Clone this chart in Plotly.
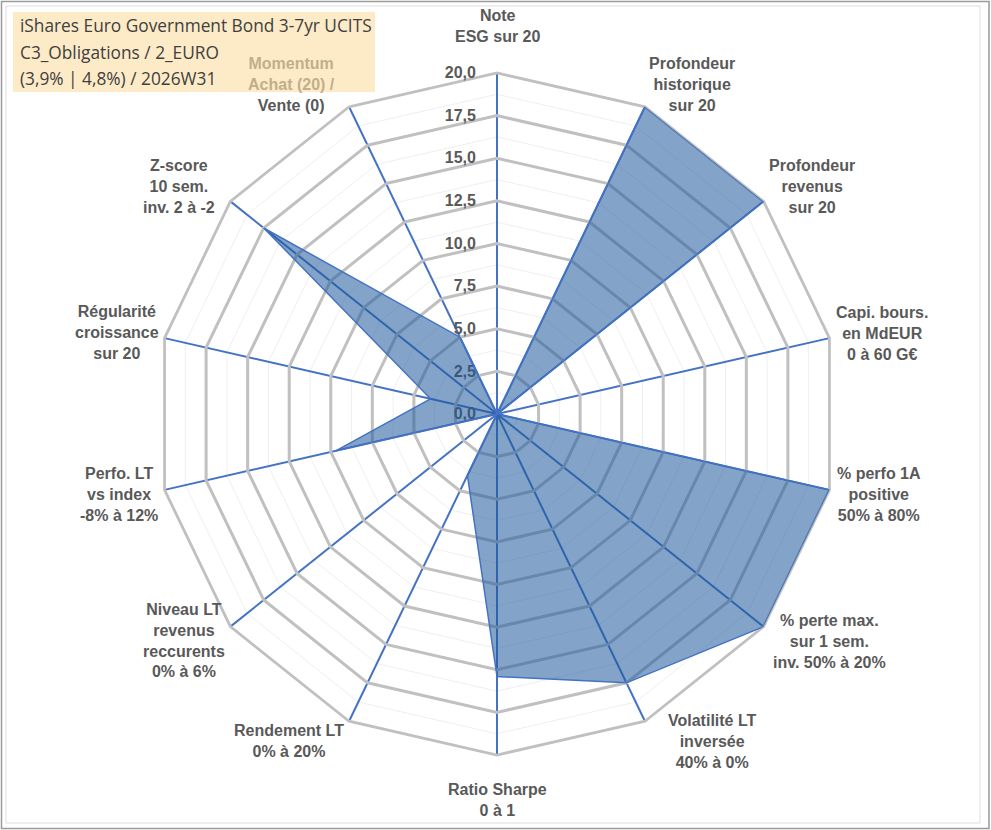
import plotly.graph_objects as go

# ---------------- data ----------------
axis_keys = [
    "Note ESG", "Profondeur historique", "Profondeur revenus", "Capi. bours.",
    "% perfo 1A", "% perte max.", "Volatilité LT", "Ratio Sharpe",
    "Rendement LT", "Niveau LT revenus", "Perfo. LT", "Régularité",
    "Z-score", "Momentum",
]
axis_labels = [
    "Note<br>ESG sur 20",
    "Profondeur<br>historique<br>sur 20",
    "Profondeur<br>revenus<br>sur 20",
    "Capi. bours.<br>en MdEUR<br>0 à 60 G€",
    "% perfo 1A<br>positive<br>50% à 80%",
    "% perte max.<br>sur 1 sem.<br>inv. 50% à 20%",
    "Volatilité LT<br>inversée<br>40% à 0%",
    "Ratio Sharpe<br>0 à 1",
    "Rendement LT<br>0% à 20%",
    "Niveau LT<br>revenus<br>reccurents<br>0% à 6%",
    "Perfo. LT<br>vs index<br>-8% à 12%",
    "Régularité<br>croissance<br>sur 20",
    "Z-score<br>10 sem.<br>inv. 2 à -2",
    "<span style='color:#C2AE8A'>Momentum</span><br><span style='color:#C2AE8A'>Achat (20) /</span><br>Vente (0)",
]
scores = [0, 20, 20, 0, 20, 20, 17.5, 15.4, 4.0, 0, 9.7, 4.0, 17.5, 5.0]
radial_ticks = [0, 2.5, 5, 7.5, 10, 12.5, 15, 17.5, 20]
minor_ticks = [1.25, 3.75, 6.25, 8.75, 11.25, 13.75, 16.25, 18.75]
title_lines = [
    "iShares Euro Government Bond 3-7yr UCITS",
    "C3_Obligations / 2_EURO",
    "(3,9% | 4,8%) / 2026W31",
]

# ---------------- layout helpers ----------------
W, H = 991, 830
CX, CY, R = 497, 414, 341


def px(x):
    return x / W


def py(y):
    return 1 - y / H


dom_x = [px(CX - R), px(CX + R)]
dom_y = [py(CY + R), py(CY - R)]

label_pos = [
    (497, 26), (692, 85), (812, 186), (882, 333), (879, 494), (829, 641),
    (712, 741), (497, 800), (289, 741), (184, 640), (119, 494), (117, 332),
    (179, 186), (291, 85),
]

fig = go.Figure()

# invisible trace defining the minor grid subplot
fig.add_trace(go.Scatterpolar(
    r=[0] * len(axis_keys), theta=axis_keys, mode="markers",
    marker=dict(opacity=0), hoverinfo="skip", showlegend=False,
    subplot="polar",
))

theta_closed = axis_keys + [axis_keys[0]]
r_closed = scores + [scores[0]]
fig.add_trace(go.Scatterpolar(
    r=r_closed, theta=theta_closed, mode="lines", fill="toself",
    fillcolor="rgba(30,90,155,0.55)",
    line=dict(color="#4472C4", width=1.5),
    hoverinfo="skip", showlegend=False, subplot="polar2",
))

common_ang = dict(
    categoryorder="array", categoryarray=axis_keys,
    direction="clockwise", rotation=90,
    showticklabels=False, ticks="",
)

fig.update_layout(
    width=W, height=H,
    margin=dict(l=0, r=0, t=0, b=0),
    paper_bgcolor="white",
    separators=", ",
    showlegend=False,
    polar=dict(
        domain=dict(x=dom_x, y=dom_y),
        gridshape="linear",
        bgcolor="white",
        radialaxis=dict(
            range=[0, 20], tickvals=minor_ticks, showticklabels=False,
            ticks="", showline=False, gridcolor="#EFEFEF", gridwidth=1,
        ),
        angularaxis=dict(
            **common_ang, showgrid=False, showline=False,
        ),
    ),
    polar2=dict(
        domain=dict(x=dom_x, y=dom_y),
        gridshape="linear",
        bgcolor="rgba(0,0,0,0)",
        radialaxis=dict(
            range=[0, 20], tickvals=radial_ticks, tickformat=".1f",
            angle=90, side="counterclockwise", tickangle=90,
            ticks="outside", ticklen=15, tickcolor="rgba(0,0,0,0)",
            showline=False, gridcolor="#C0C0C0", gridwidth=2.8,
            layer="below traces",
            tickfont=dict(family="Liberation Sans, Arial", size=16,
                          color="#595959", weight="bold"),
        ),
        angularaxis=dict(
            **common_ang, showgrid=True, gridcolor="#4472C4", gridwidth=1.6,
            showline=True, linecolor="#C0C0C0", linewidth=2.8,
            layer="below traces",
        ),
    ),
)

annotations = []
for (lx, ly), txt in zip(label_pos, axis_labels):
    annotations.append(dict(
        x=px(lx), y=py(ly), xref="paper", yref="paper",
        text="<b>" + txt + "</b>", showarrow=False,
        xanchor="center", yanchor="middle", align="center",
        font=dict(family="Liberation Sans, Arial", size=16, color="#595959"),
    ))

title_y = [26, 52, 78]
for ty, line in zip(title_y, title_lines):
    annotations.append(dict(
        x=px(18), y=py(ty), xref="paper", yref="paper", text=line,
        showarrow=False, xanchor="left", yanchor="middle", align="left",
        font=dict(family="Open Sans, Noto Sans", size=17.3, color="#404040"),
    ))
fig.update_layout(annotations=annotations)

fig.update_layout(shapes=[
    dict(type="rect", xref="paper", yref="paper",
         x0=px(13), x1=px(375), y0=py(92), y1=py(12),
         fillcolor="#FDEBC8", line=dict(width=0), layer="below"),
    dict(type="rect", xref="paper", yref="paper",
         x0=px(1.5), x1=px(989), y0=py(828.5), y1=py(1.5),
         line=dict(color="#9A9A9A", width=1.5), layer="above"),
    dict(type="rect", xref="paper", yref="paper",
         x0=px(6), x1=px(980), y0=py(823), y1=py(6),
         line=dict(color="#DDDDDD", width=1), layer="above"),
])

fig.write_html(
    "out.html",
    config={"displayModeBar": False},
    post_script="document.body.style.margin='0';document.body.style.overflow='hidden';",
)
